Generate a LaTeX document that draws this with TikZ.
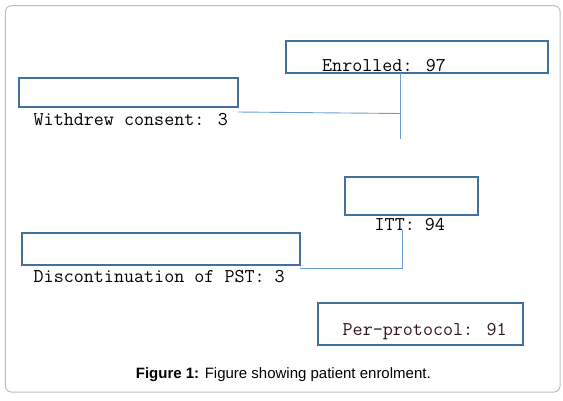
\documentclass[tikz,border=0pt]{standalone}
\usepackage{fontspec}
\newfontfamily\capfont{Liberation Sans}
\usetikzlibrary{calc}

\definecolor{boxblue}{HTML}{41719C}
\definecolor{linkblue}{HTML}{6A9FD4}
\definecolor{framegray}{HTML}{BDBDBD}
\definecolor{darkred}{HTML}{2E1518}

\tikzset{
  stage/.style={draw=boxblue, line width=2.2pt, rectangle, inner sep=0pt, outer sep=0pt, anchor=north west},
  count/.style={font=\fontsize{19.5}{22}\selectfont\ttfamily, inner sep=0pt, anchor=base west, text=black},
  link/.style={draw=linkblue, line width=0.9pt}
}

\begin{document}
\begin{tikzpicture}[x=1pt, y=-1pt]
    \useasboundingbox (0,0) rectangle (563,400);
    \draw[framegray, line width=1pt, rounded corners=6pt] (5.4,5.7) rectangle (560,392);

    % boxes
    \node[stage, minimum width=262pt, minimum height=32pt] (enrolled) at (285.7,41) {};
    \node[stage, minimum width=219pt, minimum height=29pt] (withdrew) at (18.7,78) {};
    \node[stage, minimum width=133pt, minimum height=38pt] (itt) at (344.7,177) {};
    \node[stage, minimum width=278pt, minimum height=32pt] (disc) at (21.6,233) {};
    \node[stage, minimum width=205pt, minimum height=42pt] (perprot) at (317.7,303) {};

    % texts
    \node[count] (enrolledtxt) at (322,71.7) {Enrolled: 97};
    \node[count] (withdrewtxt) at (33.5,125.7) {Withdrew consent: 3};
    \node[count] (itttxt) at (374.5,230) {ITT: 94};
    \node[count] (disctxt) at (33.5,282.7) {Discontinuation of PST: 3};
    \node[count, text=darkred] (perprottxt) at (342.5,335) {Per-protocol: 91};

    % connectors
    \coordinate (join1) at (400.6,113.5);
    \coordinate (stop1) at (400.6,139.3);
    \coordinate (join2) at (402.4,268);
    \draw[link] (enrolled.south -| stop1) -- (stop1);
    \draw[link] ([yshift=-5pt]withdrew.south east) -- (join1);
    \draw[link] (itttxt.base -| join2) -- (join2) -- ([yshift=-3pt]disc.south east);

    \node[font=\fontsize{15}{17}\selectfont\capfont, anchor=base] (caption) at (283.3,378.3)
        {\textbf{Figure 1:} Figure showing patient enrolment.};
\end{tikzpicture}
\end{document}
